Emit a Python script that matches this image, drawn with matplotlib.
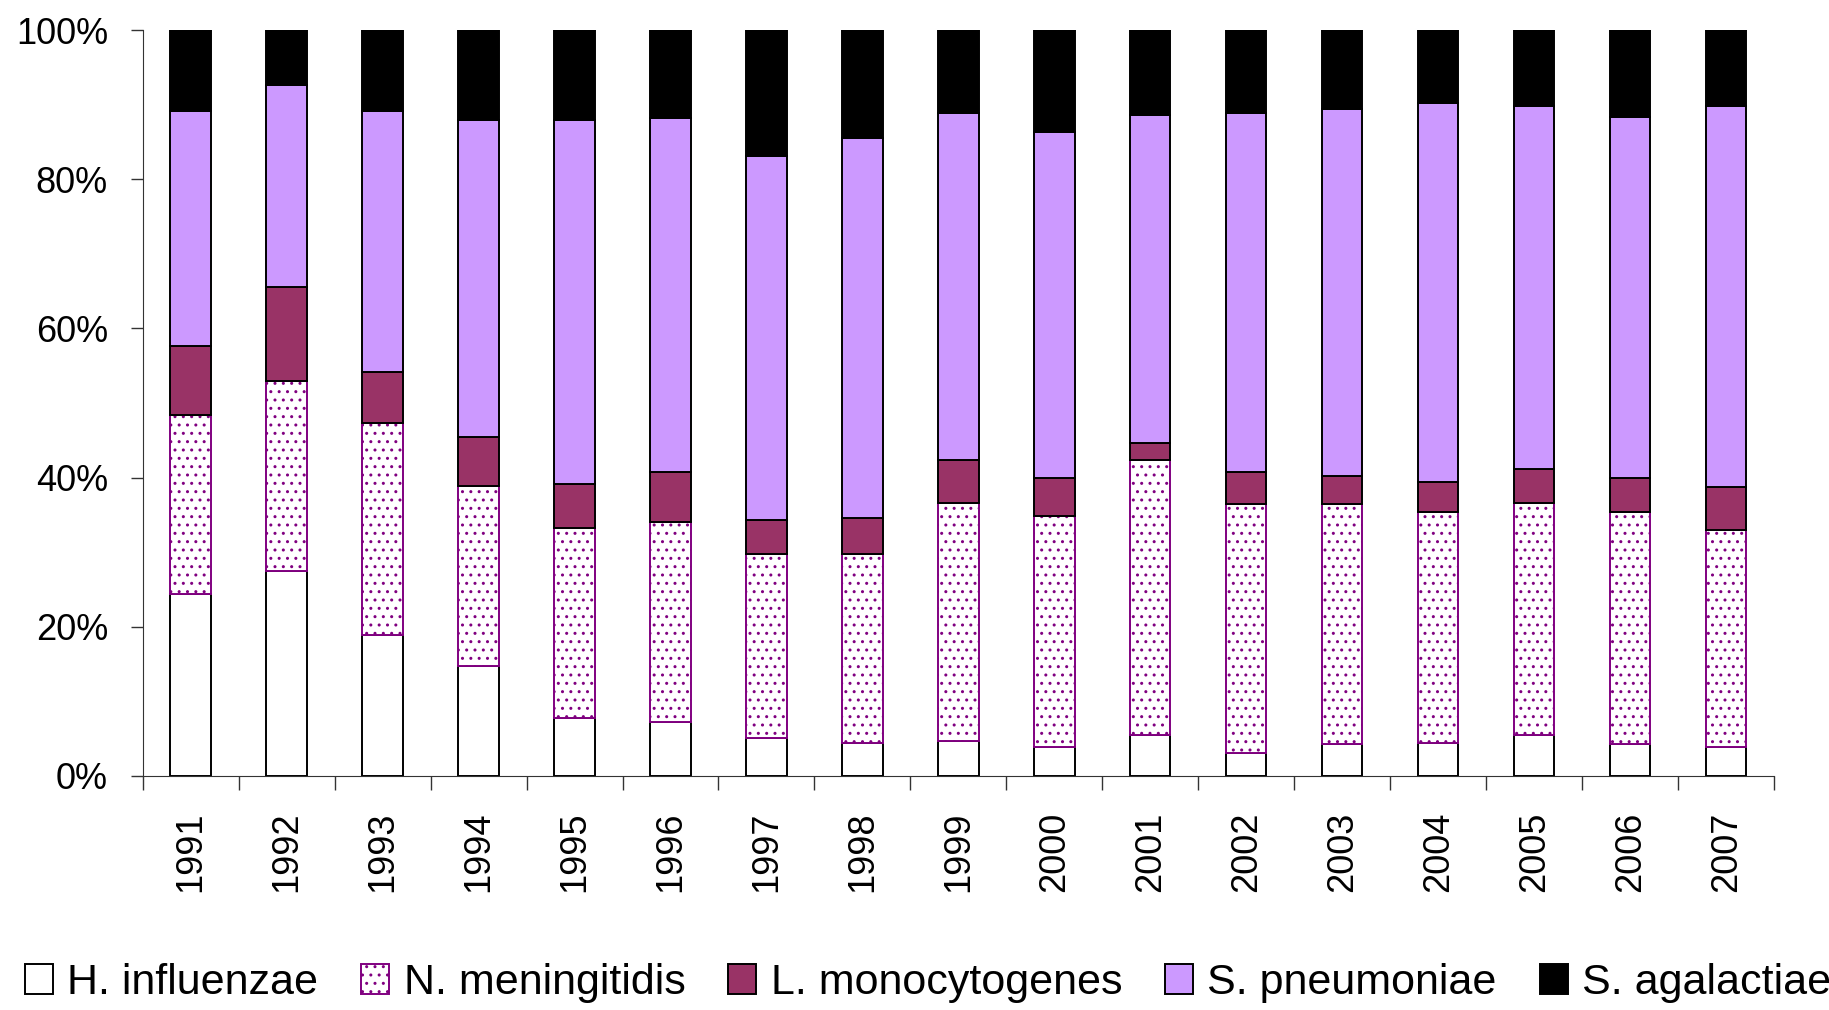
import matplotlib.pyplot as plt
import numpy as np

plt.rcParams['font.family'] = ['Liberation Sans', 'DejaVu Sans']

years = ['1991', '1992', '1993', '1994', '1995', '1996', '1997', '1998', '1999',
         '2000', '2001', '2002', '2003', '2004', '2005', '2006', '2007']

h_influenzae = [24.4, 27.4, 18.9, 14.7, 7.8, 7.2, 5.0, 4.4, 4.7, 3.9, 5.5, 3.1, 4.2, 4.4, 5.5, 4.2, 3.8]
n_meningitidis = [24.0, 25.5, 28.4, 24.1, 25.4, 26.9, 24.7, 25.3, 31.9, 31.0, 36.8, 33.4, 32.3, 31.0, 31.1, 31.2, 29.2]
l_monocytogenes = [9.2, 12.7, 6.8, 6.6, 5.9, 6.7, 4.6, 4.9, 5.7, 5.0, 2.3, 4.2, 3.7, 4.0, 4.6, 4.5, 5.7]
s_pneumoniae = [31.6, 27.0, 35.1, 42.5, 48.8, 47.5, 48.8, 51.0, 46.6, 46.5, 44.1, 48.2, 49.3, 50.9, 48.6, 48.5, 51.1]
s_agalactiae = [10.8, 7.4, 10.8, 12.1, 12.1, 11.7, 16.9, 14.4, 11.1, 13.6, 11.3, 11.1, 10.5, 9.7, 10.2, 11.6, 10.2]

series = [
    ('H. influenzae', h_influenzae, 'white', 'black', None),
    ('N. meningitidis', n_meningitidis, 'white', '#800080', '..'),
    ('L. monocytogenes', l_monocytogenes, '#993366', 'black', None),
    ('S. pneumoniae', s_pneumoniae, '#CC99FF', 'black', None),
    ('S. agalactiae', s_agalactiae, 'black', 'black', None),
]

fig = plt.figure(figsize=(18.29, 10.10), dpi=100)
ax = fig.add_axes([0.078, 0.232, 0.892, 0.738])

x = np.arange(len(years))
bottom = np.zeros(len(years))
for name, vals, fc, ec, hatch in series:
    vals = np.array(vals)
    ax.bar(x, vals, width=0.42, bottom=bottom, color=fc, edgecolor=ec,
           hatch=hatch, linewidth=1.4, label=name)
    bottom += vals

ax.set_xlim(-0.5, len(years) - 0.5)
ax.set_ylim(0, 100)
ax.set_yticks([0, 20, 40, 60, 80, 100])
ax.set_yticklabels(['0%', '20%', '40%', '60%', '80%', '100%'])
ax.set_xticks(x)
ax.set_xticklabels(years, rotation=90)
ax.set_xticks(np.arange(-0.5, len(years)), minor=True)
ax.tick_params(axis='x', which='major', length=0, pad=26, labelsize=26)
ax.tick_params(axis='x', which='minor', length=10, width=1, color='#333333')
ax.tick_params(axis='y', length=9, width=1, pad=16, labelsize=26, color='#333333')

ax.spines['top'].set_visible(False)
ax.spines['right'].set_visible(False)
ax.spines['left'].set_color('#333333')
ax.spines['bottom'].set_color('#333333')

fig.legend(loc='center left', bbox_to_anchor=(0.0137, 0.027), ncol=5, frameon=False,
           fontsize=31, handlelength=0.65, handleheight=0.7, handletextpad=0.33,
           columnspacing=1.0, borderpad=0, borderaxespad=0)

fig.savefig('out.png', dpi=100)
